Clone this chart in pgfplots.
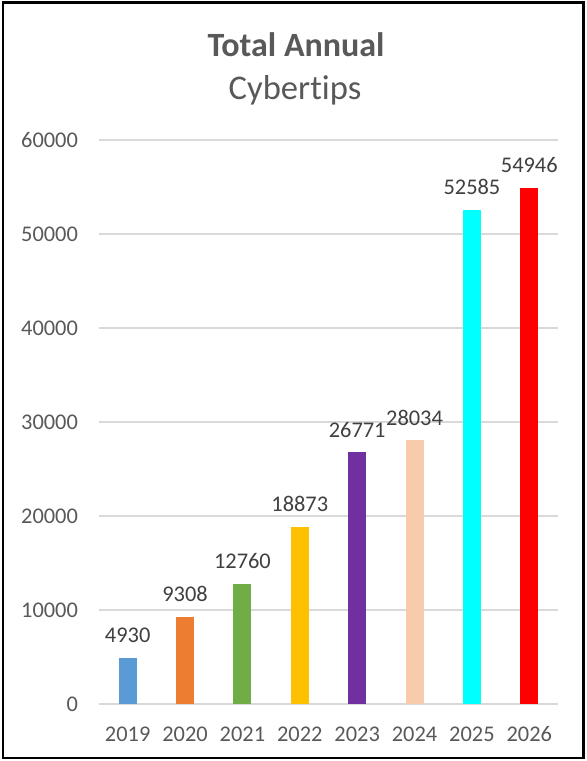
\documentclass[border=0pt]{standalone}
\usepackage{fontspec}
\setmainfont{Carlito}[Ligatures=NoCommon]
\usepackage{pgfplots}
\pgfplotsset{compat=1.18}
\definecolor{txt}{HTML}{595959}
\definecolor{lbl}{HTML}{404040}
\definecolor{gridc}{HTML}{D9D9D9}
\definecolor{c1}{HTML}{5B9BD5}
\definecolor{c2}{HTML}{ED7D31}
\definecolor{c3}{HTML}{70AD47}
\definecolor{c4}{HTML}{FFC000}
\definecolor{c5}{HTML}{7030A0}
\definecolor{c6}{HTML}{F8CBAD}
\definecolor{c7}{HTML}{00FFFF}
\definecolor{c8}{HTML}{FF0000}
\begin{document}
\begin{tikzpicture}
\useasboundingbox (0,0) rectangle (293pt,380.5pt);
\fill[white] (0,0) rectangle (293pt,380.5pt);
\begin{axis}[
  at={(49.5pt,28.5pt)}, anchor=south west,
  scale only axis, width=229.5pt, height=282pt,
  xmin=-0.5, xmax=7.5, ymin=0, ymax=60000,
  ytick={0,10000,...,60000},
  xtick={0,...,7},
  xticklabels={2019,2020,2021,2022,2023,2024,2025,2026},
  ymajorgrids, grid style={draw=gridc, line width=0.75pt},
  axis line style={draw=none}, major tick style={draw=none},
  scaled y ticks=false,
  /pgf/number format/1000 sep={},
  /pgf/number format/assume math mode=true,
  ticklabel style={font=\fontsize{11.2}{13}\selectfont, text=txt},
  yticklabel style={xshift=-7pt},
  xticklabel style={yshift=-3.5pt},
  ybar, bar width=9pt, bar shift=0pt,
  nodes near coords,
  every node near coord/.append style={font=\fontsize{11.2}{13}\selectfont, text=lbl, yshift=4pt},
]
\addplot[fill=c1, draw=none] coordinates {(0,4930)};
\addplot[fill=c2, draw=none] coordinates {(1,9308)};
\addplot[fill=c3, draw=none] coordinates {(2,12760)};
\addplot[fill=c4, draw=none] coordinates {(3,18873)};
\addplot[fill=c5, draw=none] coordinates {(4,26771)};
\addplot[fill=c6, draw=none] coordinates {(5,28034)};
\addplot[fill=c7, draw=none] coordinates {(6,52585)};
\addplot[fill=c8, draw=none] coordinates {(7,54946)};
\end{axis}
\node[font=\fontsize{17}{20}\bfseries\selectfont, text=txt] at (148pt,358pt) {Total Annual};
\node[font=\fontsize{17.3}{20}\selectfont, text=txt] at (147.5pt,335.5pt) {Cybertips};
\draw[line width=1.4pt] (1.5pt,1.5pt) rectangle (291.7pt,379.2pt);
\end{tikzpicture}
\end{document}
